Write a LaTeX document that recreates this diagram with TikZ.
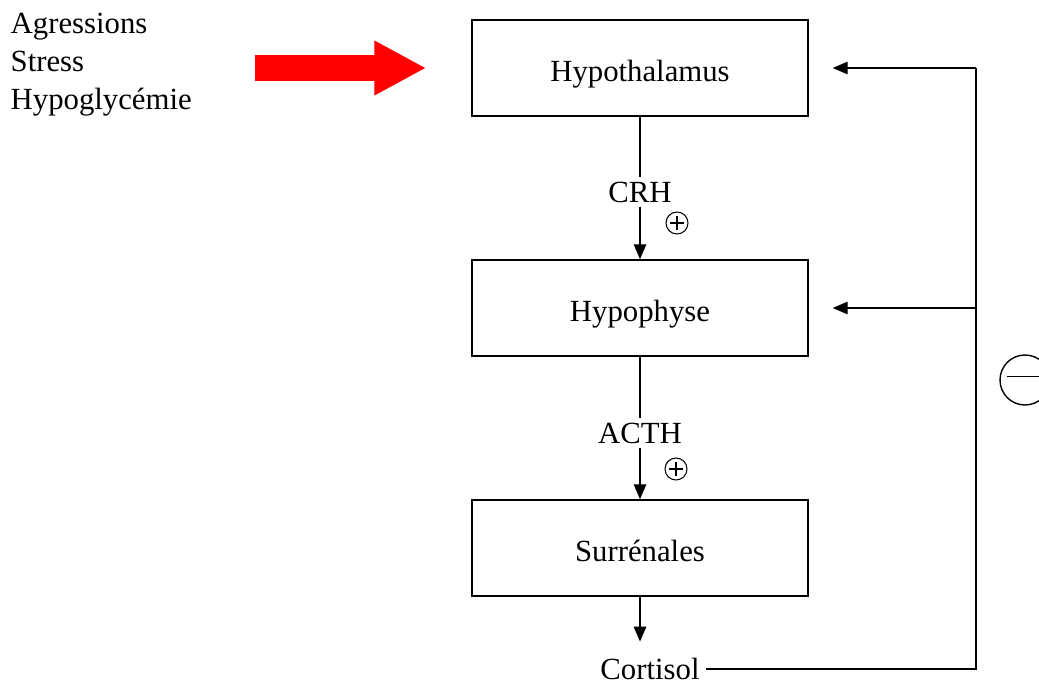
\documentclass[tikz,border=0pt]{standalone}
\usepackage{fontspec}
\setmainfont{Liberation Serif}
\usetikzlibrary{arrows.meta}

\begin{document}
\begin{tikzpicture}[font=\fontsize{17.5}{21.6}\selectfont, line width=0.8pt,
	organe/.style={rectangle, draw, minimum width=6.72cm, minimum height=1.92cm, text height=19pt, text depth=4pt},
	hormone/.style={inner ysep=2pt},
	fleche/.style={-{Triangle[length=0.3cm, width=0.25cm]}},
	signe/.style={circle, draw, inner sep=0pt, minimum size=0.44cm, line width=0.6pt,
		path picture={\draw (path picture bounding box.center) ++(-0.14, 0) -- ++(0.28, 0)
			(path picture bounding box.center) ++(0, -0.14) -- ++(0, 0.28);}}]
			\useasboundingbox (0, 0) rectangle (20.78, -13.68);
			\draw (0.2, -1.3) node [anchor=west, align=left, inner sep=0pt] (causes) {Agressions\\Stress\\Hypoglyc\'emie};
			\draw (12.8, -1.36) node [organe] (hypo) {Hypothalamus};
			\draw (12.8, -6.16) node [organe] (hypoph) {Hypophyse};
			\draw (12.8, -10.96) node [organe] (surr) {Surr\'enales};
			\draw (12.8, -3.84) node [hormone] (crh) {CRH};
			\draw (12.8, -8.66) node [hormone] (acth) {ACTH};
			\draw (13.0, -13.38) node (cort) {Cortisol};
			\draw (13.54, -4.46) node [signe] (plus1) {};
			\draw (13.52, -9.38) node [signe] (plus2) {};
			\draw (20.5, -7.6) node [circle, draw, minimum size=1cm, inner sep=0pt] (moins) {\rule[0.5ex]{0.72cm}{0.8pt}};
			\coordinate (debut) at (5.1, -1.36);
			\coordinate (coin) at (19.52, -1.36);
			% red arrow
			\draw [red, line width=0.52cm, -{Triangle[length=1.04cm, width=1.02cm]}, shorten >=0.9cm] (debut) -- (hypo.west);
			% axis
			\draw (hypo) -- (crh);
			\draw [fleche] (crh) -- (hypoph);
			\draw (hypoph) -- (acth);
			\draw [fleche] (acth) -- (surr);
			\draw [fleche, shorten >=0.2cm] (surr) -- (surr |- cort.north);
			% feedback
			\draw (cort) -- (cort -| coin) -- (coin);
			\draw [fleche, shorten >=0.48cm] (coin) -- (hypo.east);
			\draw [fleche, shorten >=0.48cm] (coin |- hypoph) -- (hypoph.east);
		\end{tikzpicture}
\end{document}
